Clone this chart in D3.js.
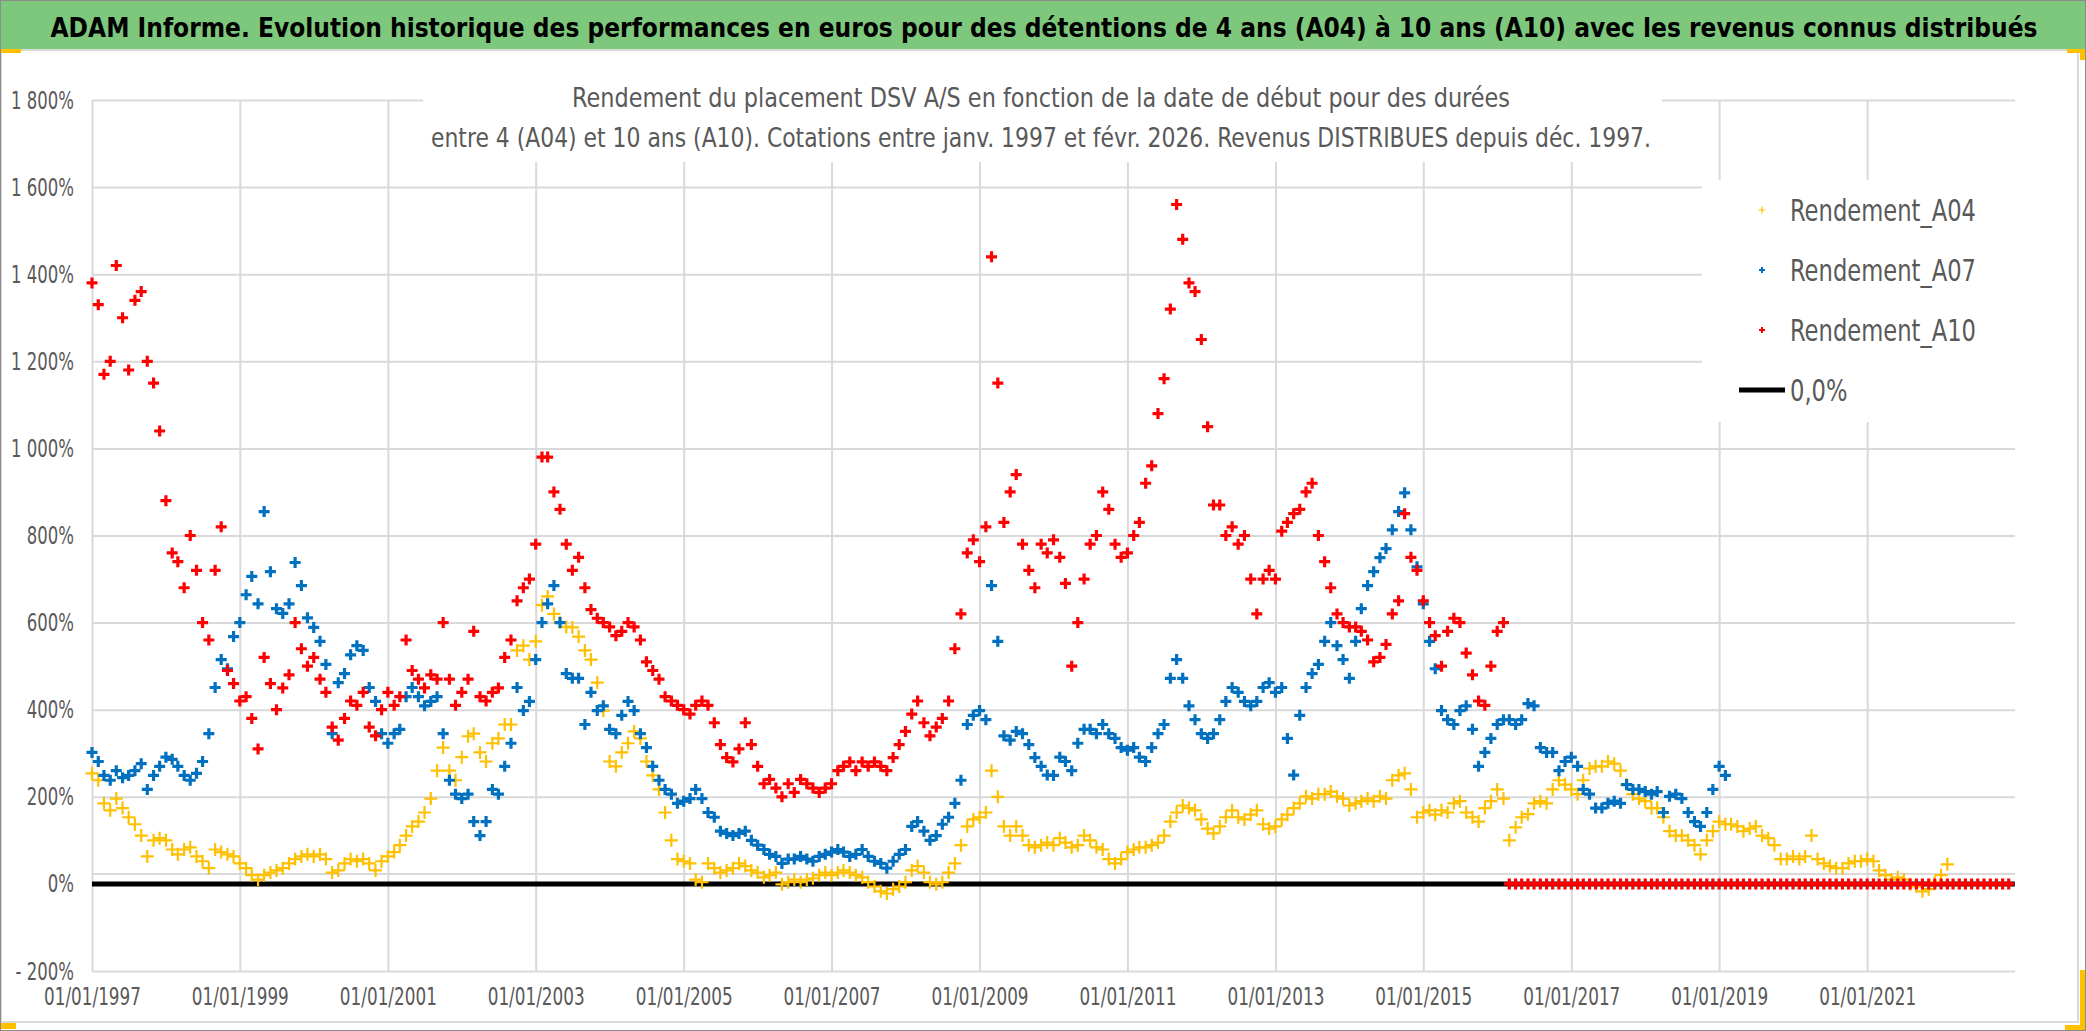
<!DOCTYPE html>
<html><head><meta charset="utf-8">
<script src="https://cdn.jsdelivr.net/npm/d3@7"></script>
<style>
html,body{margin:0;padding:0;background:#fff;}
svg{display:block;}
text{font-family:"Liberation Sans Narrow","Arial Narrow","DejaVu Sans Condensed",sans-serif;}
</style></head><body>
<svg id="chart" width="2086" height="1031"></svg>
<script>
// ---------- DATA ----------
const titleText = "ADAM Informe. Evolution historique des performances en euros pour des détentions de 4 ans (A04) à 10 ans (A10) avec les revenus connus distribués";
const subtitleLines = [
  "Rendement du placement DSV A/S en fonction de la date de début pour des durées",
  "entre 4 (A04) et 10 ans (A10). Cotations entre janv. 1997 et févr. 2026. Revenus DISTRIBUES depuis déc. 1997."
];
const seriesNames = ["Rendement_A04", "Rendement_A07", "Rendement_A10"];
const zeroLineName = "0,0%";
const firstMonth = "1997-01-01"; // monthly observations starting here

const rendementA04 = [
  254,238,185,169,196,174,153,137,111,63,100,105,
  100,79,68,79,84,63,52,36,79,73,68,63,
  47,36,20,10,20,26,31,36,47,57,63,68,
  63,68,57,26,31,47,57,52,57,47,31,52,
  63,73,89,111,132,143,164,196,260,313,260,238,
  291,339,345,302,281,323,334,366,366,536,547,515,
  557,640,660,620,600,590,589,568,536,515,462,398,
  281,270,302,323,350,334,281,249,217,164,100,57,
  52,47,10,4,47,36,26,31,36,47,41,31,
  26,15,20,26,-1,4,10,4,10,13,20,26,
  20,26,31,26,20,15,4,-6,-17,-22,-12,-6,
  4,31,41,26,4,-1,4,26,47,89,132,148,
  153,164,260,200,132,111,132,111,89,84,89,95,
  89,105,95,84,89,111,100,84,79,57,47,57,
  73,79,84,84,89,95,111,143,164,180,174,169,
  148,127,116,132,153,169,153,148,159,169,137,127,
  132,148,159,174,185,201,196,206,206,212,201,196,
  180,185,190,196,190,201,196,238,249,254,217,153,
  164,169,159,169,164,185,190,164,153,143,174,190,
  217,196,100,130,153,160,185,190,185,217,238,228,
  217,206,238,265,270,270,281,276,260,228,206,196,
  190,174,174,153,121,111,111,100,89,68,100,121,
  143,137,137,132,121,127,132,111,105,89,57,57,
  63,57,63,111,57,47,41,36,36,47,52,52,
  57,52,31,20,10,15,10,-1,-6,-17,-12,4,
  20,45
];
const rendementA07 = [
  302,281,249,238,260,244,249,260,276,217,249,270,
  291,286,270,249,238,254,281,345,451,515,494,568,
  600,664,706,643,855,717,632,621,643,738,685,611,
  589,557,504,345,462,483,526,547,536,451,419,345,
  323,345,355,430,451,430,409,419,430,345,238,206,
  196,206,143,111,143,217,206,270,323,451,398,419,
  515,600,643,685,600,483,472,472,366,440,398,409,
  355,345,387,419,398,345,313,270,238,217,206,185,
  190,196,217,196,164,153,121,116,111,116,121,100,
  89,79,68,63,47,57,57,63,57,52,63,68,
  73,79,73,63,68,79,63,52,47,36,52,68,
  79,132,143,121,100,111,137,153,185,238,366,387,
  398,377,685,557,340,330,350,345,320,290,270,250,
  249,291,281,260,323,355,355,345,366,345,334,313,
  307,313,291,281,313,345,366,472,515,472,409,377,
  345,334,345,377,419,451,440,419,409,419,451,462,
  440,451,334,250,387,451,483,504,557,600,547,515,
  472,557,632,685,717,749,770,813,855,898,813,728,
  643,557,494,398,377,366,398,409,355,270,302,334,
  366,377,377,366,377,414,409,313,302,302,260,281,
  291,270,217,206,174,174,185,190,185,228,217,217,
  212,206,212,164,201,206,196,164,143,132,164,217,
  270,249
];
const rendementA10 = [
  1380,1330,1170,1200,1420,1300,1180,1340,1360,1200,1150,1040,
  880,760,740,680,800,720,600,560,720,820,490,460,
  420,430,380,310,520,460,400,450,480,600,540,500,
  520,470,440,360,330,380,420,410,440,360,340,400,
  440,410,430,560,490,470,450,480,470,600,470,410,
  440,470,580,430,420,440,450,520,560,650,680,700,
  780,980,980,900,860,780,720,750,680,630,610,600,
  590,570,580,600,590,560,510,490,470,430,420,410,
  400,390,410,420,410,370,320,290,280,310,370,320,
  270,230,240,220,200,230,210,240,230,220,210,220,
  230,260,270,280,260,280,270,280,270,260,290,320,
  350,390,420,370,340,360,380,420,540,620,760,790,
  740,820,1440,1150,830,900,940,780,720,680,780,760,
  790,750,690,500,600,700,780,800,900,860,780,750,
  760,800,830,920,960,1080,1160,1320,1560,1480,1380,1360,
  1250,1050,870,870,800,820,780,800,700,620,700,720,
  700,810,830,850,860,900,920,800,740,680,620,600,
  590,590,580,560,510,520,550,620,650,850,750,720,
  650,600,570,500,580,610,600,530,480,420,410,500,
  580,600,
  0,0,0,0,0,0,0,0,0,0,
  0,0,0,0,0,0,0,0,0,0,0,0,
  0,0,0,0,0,0,0,0,0,0,0,0,
  0,0,0,0,0,0,0,0,0,0,0,0,
  0,0,0,0,0,0,0,0,0,0,0,0,
  0,0,0,0,0,0,0,0,0,0,0,0,
  0,0,0,0,0,0,0,0,0,0,0,0
];
const zeroLineDates = ["1997-01-01", "2022-12-31"];
const zeroLineValues = [0, 0];
const yTickValues = [-200, 0, 200, 400, 600, 800, 1000, 1200, 1400, 1600, 1800];
const xTickDates = ["1997-01-01","1999-01-01","2001-01-01","2003-01-01","2005-01-01","2007-01-01",
  "2009-01-01","2011-01-01","2013-01-01","2015-01-01","2017-01-01","2019-01-01","2021-01-01"];
const xTickLabels = ["01/01/1997","01/01/1999","01/01/2001","01/01/2003","01/01/2005","01/01/2007",
  "01/01/2009","01/01/2011","01/01/2013","01/01/2015","01/01/2017","01/01/2019","01/01/2021"];
const xDomain = ["1997-01-01", "2023-01-01"];
const yDomain = [-200, 1800];
const oddGridValue = 23;

// ---------- CHART ----------
const W = 2086, H = 1031;
const parse = d3.timeParse("%Y-%m-%d");
const svg = d3.select("#chart");
const FONT = '"Liberation Sans Narrow","Arial Narrow","DejaVu Sans Condensed",sans-serif';

const plot = {left: 92, right: 2015, top: 100, bottom: 971};
const x = d3.scaleTime().domain(xDomain.map(parse)).range([plot.left, plot.right]);
const y = d3.scaleLinear().domain(yDomain).range([plot.bottom, plot.top]);

const colors = ["#FFC000", "#0070C0", "#FF0000"];
const start = parse(firstMonth);
function toPoints(arr){ return arr.map((v,i)=>({date: d3.timeMonth.offset(start, i), value: v})); }
const series = [rendementA04, rendementA07, rendementA10].map(toPoints);

function condense(sel, factor){
  sel.each(function(){
    const w = this.getComputedTextLength();
    d3.select(this).attr("textLength", w*factor).attr("lengthAdjust","spacingAndGlyphs");
  });
}

// background
svg.append("rect").attr("width",W).attr("height",H).attr("fill","#fff");
// title bar
svg.append("rect").attr("x",0).attr("y",0).attr("width",W).attr("height",49).attr("fill","#7DC87D");
const titleEl = svg.append("text").attr("x",1044).attr("y",37).attr("text-anchor","middle")
  .attr("font-size",26).attr("font-weight","bold").attr("fill","#000").text(titleText);
{
  const w = titleEl.node().getComputedTextLength();
  titleEl.attr("textLength", Math.min(w, 2000)).attr("lengthAdjust","spacingAndGlyphs");
}
// chart area border
svg.append("rect").attr("x",1).attr("y",50).attr("width",2077).attr("height",972)
  .attr("fill","none").attr("stroke","#d9d9d9").attr("stroke-width",2);

// gridlines
const gridY = svg.append("g").attr("transform",`translate(${plot.left},0)`)
  .call(d3.axisLeft(y).tickValues(yTickValues).tickSize(-(plot.right-plot.left)).tickFormat(""));
gridY.select(".domain").remove();
gridY.selectAll("line").attr("stroke","#d9d9d9").attr("stroke-width",2);
const gridX = svg.append("g").attr("transform",`translate(0,${plot.bottom})`)
  .call(d3.axisBottom(x).tickValues(xTickDates.map(parse)).tickSize(-(plot.bottom-plot.top)).tickFormat(""));
gridX.select(".domain").remove();
gridX.selectAll("line").attr("stroke","#d9d9d9").attr("stroke-width",2);
svg.append("line").attr("x1",plot.left).attr("x2",plot.right)
  .attr("y1",y(oddGridValue)).attr("y2",y(oddGridValue)).attr("stroke","#d9d9d9").attr("stroke-width",2);

// axes labels
const fmtNum = d3.formatLocale({decimal:",", thousands:" ", grouping:[3], currency:["",""]}).format(",d");
const axY = svg.append("g").attr("transform",`translate(${plot.left},0)`)
  .call(d3.axisLeft(y).tickValues(yTickValues).tickSize(0).tickPadding(18)
  .tickFormat(v => (v<0 ? "- " : "") + fmtNum(Math.abs(v)) + "%"));
axY.select(".domain").remove();
axY.selectAll("text").attr("font-size",25).attr("fill","#595959").attr("font-family",FONT);
{
  const ref = axY.selectAll("text").filter(d=>d===1800).node();
  const f = 63 / ref.getComputedTextLength();
  condense(axY.selectAll("text"), Math.min(1, f));
}
const axX = svg.append("g").attr("transform",`translate(0,${plot.bottom})`)
  .call(d3.axisBottom(x).tickValues(xTickDates.map(parse)).tickSize(0).tickPadding(16)
  .tickFormat((d,i)=>xTickLabels[i]));
axX.select(".domain").remove();
axX.selectAll("text").attr("font-size",25).attr("fill","#595959").attr("font-family",FONT);
{
  const f = 97 / axX.select("text").node().getComputedTextLength();
  condense(axX.selectAll("text"), Math.min(1, f));
}

// subtitle box
svg.append("rect").attr("x",423).attr("y",60).attr("width",1239).attr("height",102).attr("fill","#fff");
subtitleLines.forEach((t,i)=>{
  svg.append("text").attr("x",1041).attr("y",107+i*40).attr("text-anchor","middle")
    .attr("font-size",27).attr("fill","#595959")
    .attr("textLength", i===0?938:1220).attr("lengthAdjust","spacingAndGlyphs").text(t);
});

// zero line
const zeroPts = zeroLineDates.map((d,i)=>({date: parse(d), value: zeroLineValues[i]}));
svg.append("path").datum(zeroPts)
  .attr("d", d3.line().x(d=>x(d.date)).y(d=>y(d.value)))
  .attr("stroke","#000").attr("stroke-width",5).attr("fill","none");

// markers
const markerStyle = [{s:6.5, w:2.2},{s:5.5, w:3.2},{s:5.5, w:3.2}];
function plus(s){ return `M${-s},0H${s}M0,${-s}V${s}`; }
series.forEach((pts,k)=>{
  svg.append("g").selectAll("path").data(pts).join("path")
    .attr("transform", d=>`translate(${x(d.date)},${y(d.value)})`)
    .attr("d", plus(markerStyle[k].s))
    .attr("stroke", colors[k]).attr("stroke-width", markerStyle[k].w).attr("fill","none");
});

// legend
svg.append("rect").attr("x",1702).attr("y",180).attr("width",314).attr("height",242).attr("fill","#fff");
const legTexts = [];
seriesNames.forEach((name,i)=>{
  const ly = 210 + i*60;
  svg.append("path").attr("transform",`translate(1762,${ly})`).attr("d",plus(i===0?3.5:3))
    .attr("stroke",colors[i]).attr("stroke-width", i===0?1.2:2).attr("fill","none");
  legTexts.push(svg.append("text").attr("x",1790).attr("y",ly).attr("dy","0.35em").attr("font-size",30)
    .attr("fill","#595959").text(name).node());
});
svg.append("line").attr("x1",1739).attr("x2",1785).attr("y1",390).attr("y2",390)
  .attr("stroke","#000").attr("stroke-width",5);
legTexts.push(svg.append("text").attr("x",1790).attr("y",390).attr("dy","0.35em").attr("font-size",30)
  .attr("fill","#595959").text(zeroLineName).node());
{
  const f = 186 / legTexts[0].getComputedTextLength();
  condense(d3.selectAll(legTexts), Math.min(1.1, f));
}

// corner marks
const yellow = "#FFC000";
[[0,49,21,4],[2067,49,19,4],[2080,49,6,11],[0,1023,16,6],[2080,970,6,61],[2065,1025,21,6]].forEach(r=>{
  svg.append("rect").attr("x",r[0]).attr("y",r[1]).attr("width",r[2]).attr("height",r[3]).attr("fill",yellow);
});
// outer frame
svg.append("rect").attr("x",0.5).attr("y",0.5).attr("width",W-1).attr("height",H-1)
  .attr("fill","none").attr("stroke","#8c8c8c").attr("stroke-width",1);
</script>
</body></html>
